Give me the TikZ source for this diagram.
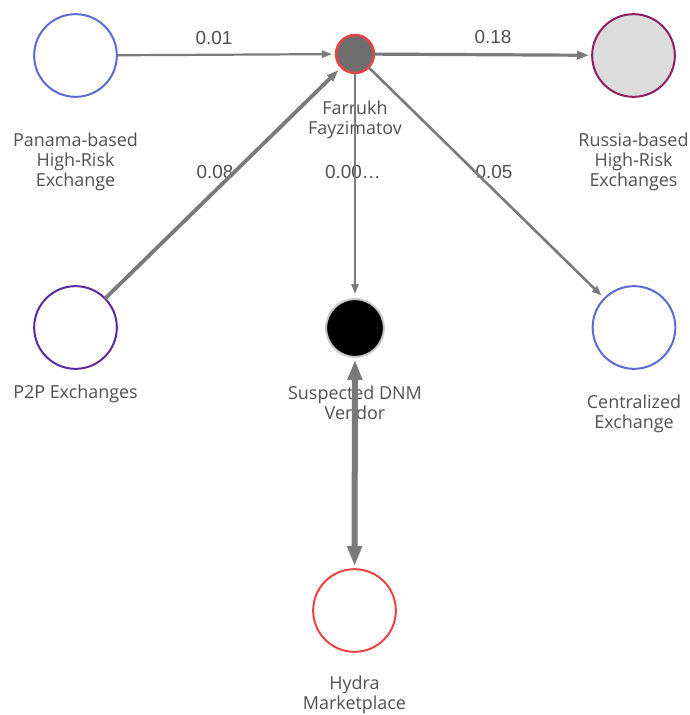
\documentclass[tikz,border=0pt]{standalone}
\usepackage{fontspec}
\setmainfont{Open Sans}
\newfontfamily\edgefont{Liberation Sans}
\usetikzlibrary{arrows.meta}
\definecolor{txt}{HTML}{505050}
\definecolor{edgegray}{HTML}{7A7A7A}
\definecolor{blueline}{HTML}{5B6BD0}
\definecolor{redline}{HTML}{E84444}
\definecolor{plumline}{HTML}{8E1E5E}
\definecolor{purpleline}{HTML}{5A2A9E}
\definecolor{darkfill}{HTML}{6E6E6E}
\definecolor{lightfill}{HTML}{DCDCDC}
\definecolor{halo}{HTML}{C8C8C8}
\begin{document}
\begin{tikzpicture}[x=1bp,y=-1bp,
  ent/.style={circle,minimum size=#1,inner sep=0pt,outer sep=0pt,line width=2bp},
  lbl/.style={text=txt,font=\fontsize{18}{20}\selectfont,align=center,inner sep=0pt},
  elbl/.style={text=txt,font=\edgefont\fontsize{19}{20}\selectfont,inner sep=0pt},
  link/.style={draw=edgegray,line width=#1},
  tipS/.style={-{Triangle[length=10bp,width=7bp]}},
  tipM/.style={-{Triangle[length=12bp,width=8bp]}}]
\useasboundingbox (0,0) rectangle (690,715);
% labels first (lines run over them)
\node[lbl] (panl) at (75.5,162) {Panama-based\\High-Risk\\Exchange};
\node[lbl] (farl) at (355,120) {Farrukh\\Fayzimatov};
\node[lbl] (rusl) at (633.5,162) {Russia-based\\High-Risk\\Exchanges};
\node[lbl] (p2pl) at (75.5,394) {P2P Exchanges};
\node[lbl] (dnml) at (355,403) {Suspected DNM\\Vendor};
\node[lbl] (cenl) at (634,414) {Centralized\\Exchange};
\node[lbl] (hydl) at (354.5,695) {Hydra\\Marketplace};
\node[elbl] (e1) at (214,38) {0.01};
\node[elbl] (e2) at (493,37) {0.18};
\node[elbl] (e3) at (215,172) {0.08};
\node[elbl] (e4) at (353,172) {0.00…};
\node[elbl] (e5) at (494,172) {0.05};
% entities
\node[ent=83,draw=blueline] (pan) at (75.5,55.5) {};
\node[ent=38,draw=redline,fill=darkfill,line width=2.5bp] (far) at (355,54) {};
\node[ent=83,draw=plumline,fill=lightfill] (rus) at (633.5,55.5) {};
\node[ent=83,draw=purpleline] (p2p) at (75.5,327.5) {};
\node[ent=58,draw=halo,fill=black] (dnm) at (355,328) {};
\node[ent=83,draw=blueline] (cen) at (634,327.5) {};
\node[ent=83,draw=redline] (hyd) at (354.5,610.5) {};
% connectors
\draw[link=2.2bp,tipS,shorten <=1bp,shorten >=4bp] (pan) -- (far);
\draw[link=3.2bp,tipM,shorten >=3bp] (far) -- (rus);
\draw[link=3.8bp,tipM,shorten >=4bp] (p2p) -- (far);
\draw[link=2.2bp,tipS,shorten >=5bp] (far) -- (dnm);
\draw[link=2.6bp,tipS,shorten >=4bp] (far) -- (cen);
\draw[link=6bp,{Triangle[length=20bp,width=14bp]}-{Triangle[length=20bp,width=14bp]},shorten <=3bp,shorten >=3bp] (dnm) -- (hyd);
\end{tikzpicture}
\end{document}
